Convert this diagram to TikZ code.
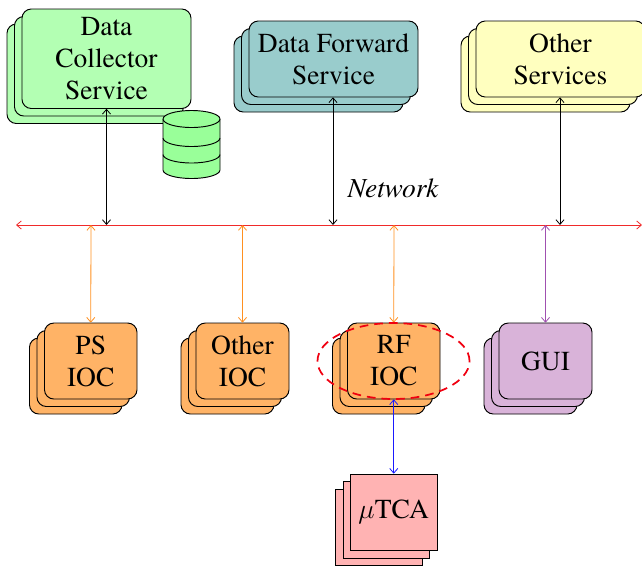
\documentclass[tikz,border=0pt]{standalone}
\usepackage{fontspec}
\setmainfont{TeX Gyre Termes}
\usetikzlibrary{arrows.meta,shapes.geometric}
\tikzset{
 x=0.75pt,y=-0.75pt,
 lbl/.style={align=center,font=\fontsize{20.6}{24}\selectfont,inner sep=0},
 conn/.style={{Straight Barb[length=3.5pt,width=6pt]}-{Straight Barb[length=3.5pt,width=6pt]},line width=0.6pt},
 dbline/.style={draw=black,line width=0.7pt},
}
\definecolor{cgreen}{HTML}{B3FFB3}
\definecolor{cdb}{HTML}{99FF99}
\definecolor{cteal}{HTML}{99CCCC}
\definecolor{cyel}{HTML}{FFFFBF}
\definecolor{corange}{HTML}{FFB366}
\definecolor{cpurple}{HTML}{D9B3D9}
\definecolor{cred}{HTML}{FFB3B3}
\definecolor{cnet}{HTML}{F02A2A}
\definecolor{cor}{HTML}{FF9020}
\definecolor{cpur}{HTML}{A050B0}
\definecolor{cblu}{HTML}{1A1AFF}
\definecolor{cell}{HTML}{F00010}
\newcommand{\stack}[6]{%
 \foreach \d in {15,7.5,0}{
  \path[draw=black,line width=0.7pt,fill=#6,rounded corners=7pt] (#2-\d,#3+\d) rectangle (#4-\d,#5+\d);}
 \node[inner sep=0,minimum width={(#4-#2)*0.75pt},minimum height={(#5-#3)*0.75pt}] (#1) at ({(#2+#4)/2},{(#3+#5)/2}) {};
}
\newcommand{\sqstack}[6]{%
 \foreach \d in {15,7.5,0}{
  \path[draw=black,line width=0.7pt,fill=#6] (#2-\d,#3+\d) rectangle (#4-\d,#5+\d);}
 \node[inner sep=0,minimum width={(#4-#2)*0.75pt},minimum height={(#5-#3)*0.75pt}] (#1) at ({(#2+#4)/2},{(#3+#5)/2}) {};
}
\begin{document}
\begin{tikzpicture}
\useasboundingbox (0,0) rectangle (642,568);
\stack{dc}{22}{9}{191}{108.5}{cgreen}
\stack{df}{249}{21}{418}{97}{cteal}
\stack{os}{476}{21}{645}{97}{cyel}
\stack{ps}{44.5}{323}{137}{399}{corange}
\stack{oi}{196}{323}{289}{399}{corange}
\stack{rf}{347.5}{323}{440}{399}{corange}
\stack{gu}{499}{323}{592}{399}{cpurple}
\sqstack{mt}{350.5}{474}{437}{550.5}{cred}
\node[lbl] at (dc) {Data\\Collector\\Service};
\node[lbl] at (df) {Data Forward\\Service};
\node[lbl] at (os) {Other\\Services};
\node[lbl] at (ps) {PS\\IOC};
\node[lbl] at (oi) {Other\\IOC};
\node[lbl] at (rf) {RF\\IOC};
\node[lbl] at (gu) {GUI};
\node[lbl] at (mt) {$\mu$TCA};
% database
\path[dbline,fill=cdb] (163,119) -- (163,170) arc[start angle=180,end angle=0,x radius=28.5,y radius=8.5] -- (220,119) arc[start angle=0,end angle=-180,x radius=28.5,y radius=8.5] -- cycle;
\draw[dbline] (163,119) arc[start angle=180,end angle=0,x radius=28.5,y radius=8.5];
\draw[dbline] (163,138) arc[start angle=180,end angle=0,x radius=28.5,y radius=8.5];
\draw[dbline] (163,154.5) arc[start angle=180,end angle=0,x radius=28.5,y radius=8.5];
\node[font=\fontsize{20.6}{24}\selectfont\itshape,inner sep=0] (netl) at (393,188) {Network};
\coordinate (nl) at (16,225);
\coordinate (nr) at (642,225);
\draw[conn,draw=cnet] (nl) -- (nr);
\coordinate (a1) at (106.5,225);
\coordinate (a2) at (333,225);
\coordinate (a3) at (560,225);
\draw[conn] (dc.south) -- (a1);
\draw[conn] (df.south-|a2) -- (a2);
\draw[conn] (os.south-|a3) -- (a3);
\coordinate (b1) at (91,225);
\coordinate (b2) at (242.5,225);
\coordinate (b3) at (394,225);
\coordinate (b4) at (545.5,225);
\draw[conn,draw=cor] (b1) -- (ps.north);
\draw[conn,draw=cor] (b2) -- (oi.north);
\draw[conn,draw=cor] (b3) -- (rf.north);
\draw[conn,draw=cpur] (b4) -- (gu.north);
\draw[conn,draw=cblu] (rf.south) -- (mt.north);
\node[draw=cell,dash pattern=on 6.5pt off 4.5pt,line width=1.3pt,ellipse,minimum width=114pt,minimum height=57pt,inner sep=0] (el) at (393.5,361) {};
\end{tikzpicture}
\end{document}
